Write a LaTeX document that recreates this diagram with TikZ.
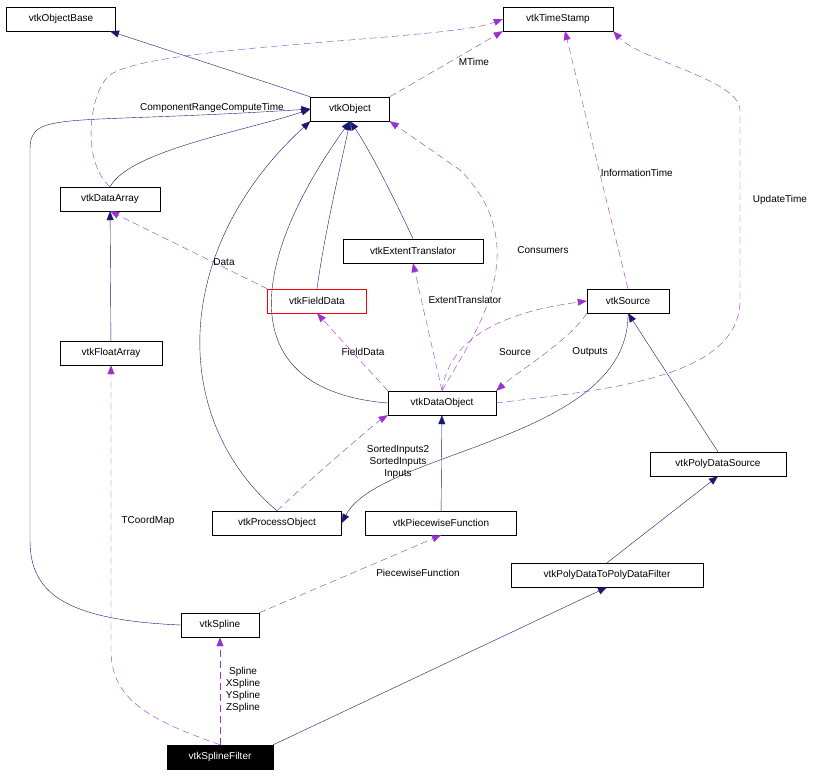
\documentclass[tikz,border=0pt]{standalone}
\usepackage{fontspec}
\setmainfont{Liberation Sans}
\usetikzlibrary{arrows.meta}
\definecolor{nv}{HTML}{191970}
\definecolor{pu}{HTML}{9A32CD}
\begin{document}
\begin{tikzpicture}[x=1pt,y=-1pt,
 box/.style={draw,fill=white,minimum height=24pt,inner xsep=0pt,font=\fontsize{10}{12}\selectfont},
 inh/.style={nv,-{Triangle[length=9pt,width=7pt]}},
 use/.style={pu,dash pattern=on 7pt off 4pt,-{Triangle[length=9pt,width=7pt]}},
 lb/.style={text=black,font=\fontsize{10}{12}\selectfont,align=center,inner sep=1pt}]
\useasboundingbox (0,0) rectangle (823,776);
\node[box,minimum width=109pt] (ob) at (61,19) {vtkObjectBase};
\node[box,minimum width=110pt] (ts) at (558,19) {vtkTimeStamp};
\node[box,minimum width=79pt] (o) at (350,109) {vtkObject};
\node[box,minimum width=100pt] (da) at (110,199) {vtkDataArray};
\node[box,minimum width=140pt] (et) at (413,251) {vtkExtentTranslator};
\node[box,draw=red,minimum width=99pt] (fd) at (317,301) {vtkFieldData};
\node[box,minimum width=82pt] (src) at (628,301) {vtkSource};
\node[box,minimum width=102pt] (fa) at (111,353) {vtkFloatArray};
\node[box,minimum width=108pt] (do) at (442,403) {vtkDataObject};
\node[box,minimum width=136pt] (pds) at (718,464) {vtkPolyDataSource};
\node[box,minimum width=129pt] (po) at (277,523) {vtkProcessObject};
\node[box,minimum width=151pt] (pf) at (441,523) {vtkPiecewiseFunction};
\node[box,minimum width=192pt] (pp) at (607,575) {vtkPolyDataToPolyDataFilter};
\node[box,minimum width=78pt] (sp) at (220,625) {vtkSpline};
\node[box,fill=black,text=white,minimum width=106pt] (sf) at (220,757) {vtkSplineFilter};
% inheritance
\draw[inh] (o.north west) -- (ob.south east -| 110,0);
\draw[inh] (da.north) .. controls (130,150) and (250,130) .. (o.west);
\draw[inh] (fa) -- (da);
\draw[inh] (fd.north) .. controls (325,230) and (342,160) .. (o.south);
\draw[inh] (et.north) .. controls (395,200) and (370,150) .. (o.south);
\draw[inh] (do.west) .. controls (230,390) and (250,260) .. (o.south);
\draw[inh] (po.north) .. controls (170,420) and (170,250) .. (o.south west);
\draw[inh] (sp.west) .. controls (60,620) and (30,590) .. (30,540) -- (30,150) .. controls (30,110) and (60,125) .. (o.west);
\draw[inh] (src.south) .. controls (630,440) and (380,450) .. (po.east);
\draw[inh] (pds.north) -- (src.south);
\draw[inh] (pf) -- (do);
\draw[inh] (pp.north) -- (pds.south);
\draw[inh] (sf.north east) -- (pp.south);
% usage
\draw[use] (o.north east) -- node[lb,pos=0.6,below right] {MTime} (ts.south west);
\draw[use] (da.north) .. controls (80,160) and (90,90) .. (110,75) .. controls (150,45) and (450,40) .. (ts.west);
\node[lb] at (212,108) {ComponentRangeComputeTime};
\draw[use] (src.north) -- node[lb,pos=0.45,right] {InformationTime} (565,31);
\draw[use] (do.east) .. controls (600,390) and (740,380) .. (740,300) -- (740,110) .. controls (740,80) and (640,60) .. (ts.south east);
\node[lb] at (780,200) {UpdateTime};
\draw[use] (fd.north west) -- node[lb,pos=0.35,right] {Data} (da.south);
\draw[use] (do.north) .. controls (470,340) and (540,250) .. (460,170) -- (o.south east);
\node[lb] at (543,250) {Consumers};
\draw[use] (do.north) -- (et.south);
\node[lb] at (465,300) {ExtentTranslator};
\draw[use] (do.north west) -- (fd.south);
\node[lb] at (363,352) {FieldData};
\draw[use] (do.north) .. controls (450,330) and (520,310) .. (src.west);
\node[lb] at (515,352) {Source};
\draw[use] (src.south west) .. controls (570,340) and (520,370) .. (do.north east);
\node[lb] at (590,352) {Outputs};
\draw[use] (po.north) .. controls (320,470) and (380,420) .. (do.south west);
\node[lb] at (398,462) {SortedInputs2\\SortedInputs\\Inputs};
\draw[use] (sp.north east) -- (pf.south);
\node[lb] at (418,573) {PiecewiseFunction};
\draw[use] (sf.north) .. controls (150,720) and (111,700) .. (111,650) -- (fa.south);
\node[lb] at (148,521) {TCoordMap};
\draw[use] (sf.north) -- (sp.south);
\node[lb] at (243,690) {Spline\\XSpline\\YSpline\\ZSpline};
\end{tikzpicture}
\end{document}
